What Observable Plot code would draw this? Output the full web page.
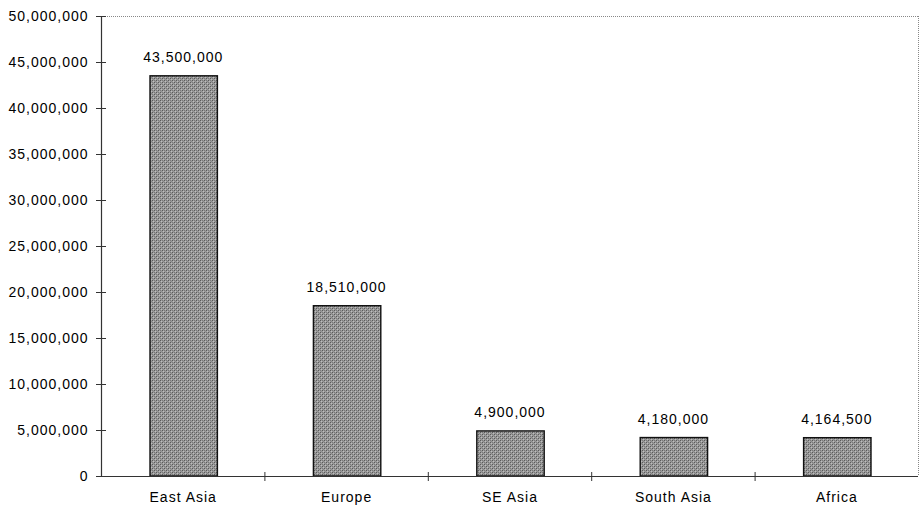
<!DOCTYPE html>
<html>
<head>
<meta charset="utf-8">
<script src="https://cdn.jsdelivr.net/npm/d3@7"></script>
<script src="https://cdn.jsdelivr.net/npm/@observablehq/plot@0.6"></script>
<style>
  html, body { margin: 0; padding: 0; background: #fff; }
</style>
</head>
<body>
<div id="chart"></div>
<script>
const categories = ["East Asia", "Europe", "SE Asia", "South Asia", "Africa"];
const values = [43500000, 18510000, 4900000, 4180000, 4164500];
const yTicks = [0, 5000000, 10000000, 15000000, 20000000, 25000000, 30000000, 35000000, 40000000, 45000000, 50000000];

const data = categories.map((c, i) => ({category: c, index: i, value: values[i]}));
const fmt = d3.format(",");

const defs = () => {
  const g = d3.create("svg:defs");
  const p = g.append("pattern").attr("id", "tex").attr("patternUnits", "userSpaceOnUse")
    .attr("width", 4).attr("height", 4);
  p.append("rect").attr("width", 4).attr("height", 4).attr("fill", "#9c9c9c");
  const dots = [[0,0,"#5a5a5a"],[2,2,"#5a5a5a"],[2,0,"#7a7a7a"],[0,2,"#7a7a7a"],[1,1,"#bdbdbd"],[3,3,"#bdbdbd"],[3,1,"#888"],[1,3,"#8f8f8f"]];
  dots.forEach(([x, y, c]) => p.append("rect").attr("x", x).attr("y", y).attr("width", 1).attr("height", 1).attr("fill", c));
  return g.node();
};

const chart = Plot.plot({
  width: 920,
  height: 507,
  marginLeft: 101,
  marginRight: 2,
  marginTop: 16,
  marginBottom: 31,
  style: {fontFamily: "'Liberation Sans', Arial, sans-serif", fontSize: "14px", color: "#000", letterSpacing: "1px", background: "#fff"},
  x: {type: "linear", domain: [0, categories.length]},
  y: {domain: [0, 50000000]},
  marks: [
    defs,
    Plot.rectY(data, {x1: d => d.index, x2: d => d.index + 1, y: "value", insetLeft: 49, insetRight: 47, fill: "url(#tex)", stroke: "#111", strokeWidth: 1.4}),
    Plot.text(data, {x: d => d.index + 0.5, y: "value", text: d => fmt(d.value), dy: -14, lineAnchor: "bottom", fill: "#000"}),
    Plot.ruleY([50000000], {stroke: "#888", strokeDasharray: "1,1"}),
    Plot.ruleX([categories.length], {stroke: "#888", strokeDasharray: "1,1"}),
    Plot.ruleX([0], {stroke: "#333", strokeWidth: 1.2}),
    Plot.ruleY([0], {stroke: "#333", strokeWidth: 1.2}),
    Plot.axisY({ticks: yTicks, tickSize: 10, dx: 5, text: null, stroke: "#333", label: null}),
    Plot.axisY({ticks: yTicks, tickSize: 0, tickPadding: 13, tickFormat: fmt, label: null, fill: "#000"}),
    Plot.axisX({ticks: [1, 2, 3, 4], tickSize: 9, dy: -4, text: null, stroke: "#333", label: null}),
    Plot.axisX({ticks: categories.map((c, i) => i + 0.5), tickSize: 0, tickPadding: 16, tickFormat: d => categories[Math.floor(d)], label: null, fill: "#000"})
  ]
});
document.getElementById("chart").appendChild(chart);
</script>
</body>
</html>
